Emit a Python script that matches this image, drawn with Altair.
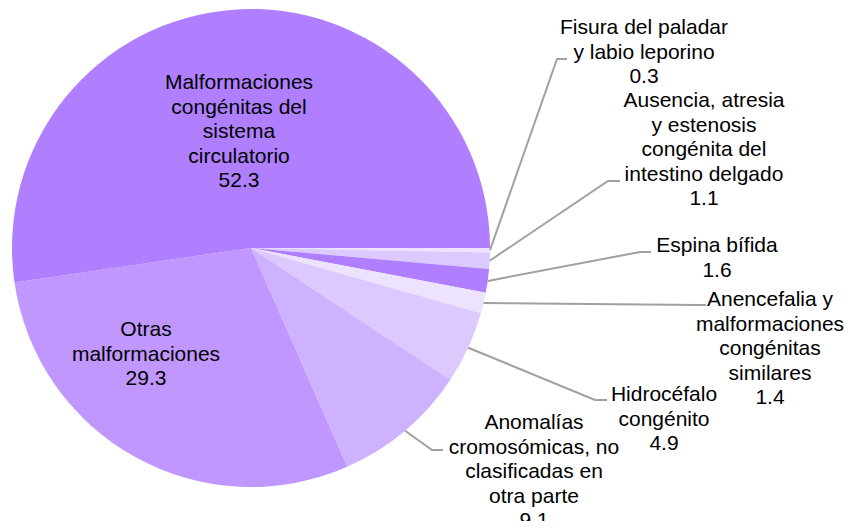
import math
import altair as alt
import pandas as pd

# ---------------- data ----------------
categories = [
    "Fisura del paladar y labio leporino",
    "Ausencia, atresia y estenosis congénita del intestino delgado",
    "Espina bífida",
    "Anencefalia y malformaciones congénitas similares",
    "Hidrocéfalo congénito",
    "Anomalías cromosómicas, no clasificadas en otra parte",
    "Otras malformaciones",
    "Malformaciones congénitas del sistema circulatorio",
]
values = [0.3, 1.1, 1.6, 1.4, 4.9, 9.1, 29.3, 52.3]
label_lines = [
    ["Fisura del paladar", "y labio leporino"],
    ["Ausencia, atresia", "y estenosis", "congénita del", "intestino delgado"],
    ["Espina bífida"],
    ["Anencefalia y", "malformaciones", "congénitas", "similares"],
    ["Hidrocéfalo", "congénito"],
    ["Anomalías", "cromosómicas, no", "clasificadas en", "otra parte"],
    ["Otras", "malformaciones"],
    ["Malformaciones", "congénitas del", "sistema", "circulatorio"],
]
colors = ["#ede3ff", "#dcc9ff", "#af7fff", "#ede3ff", "#dcc9ff", "#cfb2ff", "#c097ff", "#af7fff"]

# ---------------- layout (page pixels) ----------------
M = 8                      # page margin
CX, CY, R = 251, 248, 239  # pie centre / radius
LH = 24.6                  # text line height
FS = 21
# label centre x and first-line centre y, leader elbow / end per category
label_pos = [(644, 28), (704, 101), (717, 246), (770, 300),
             (664, 395), (534, 423), (146, 330), (239, 83)]
elbows = [((557, 59), (567, 59)), ((608, 181), (620, 181)), ((640, 252), (651, 252)),
          ((699, 305), (706, 305)), ((595, 400), (607, 400)), ((432, 450), (443, 450)),
          None, None]

# ---------------- build tables ----------------
pie_df = pd.DataFrame({"cat": categories, "value": values, "idx": range(len(values))})

total = sum(values)
cum = 0.0
line_rows, text_rows = [], []
for i, (c, v) in enumerate(zip(categories, values)):
    mid = (cum + v / 2) / total * 2 * math.pi  # clockwise from 3 o'clock
    cum += v
    sx = CX + R * math.cos(mid)
    sy = CY + R * math.sin(mid)
    if elbows[i] is not None:
        (ex, ey), (tx, ty) = elbows[i]
        for step, (px, py) in enumerate([(sx, sy), (ex, ey), (tx, ty)]):
            line_rows.append({"cat": c, "step": step, "px": px - M, "py": py - M})
    lx, ly = label_pos[i]
    text_rows.append({"cat": c, "lx": lx - M, "ly": ly - M,
                      "txt": label_lines[i] + [f"{v:.1f}"]})

line_df = pd.DataFrame(line_rows)
text_df = pd.DataFrame(text_rows)

color_scale = alt.Scale(domain=categories, range=colors)

pie = alt.Chart(pie_df).mark_arc(outerRadius=R, stroke=None).encode(
    theta=alt.Theta("value:Q", stack=True,
                    scale=alt.Scale(range=[math.pi / 2, math.pi / 2 + 2 * math.pi])),
    order=alt.Order("idx:Q"),
    color=alt.Color("cat:N", scale=color_scale, legend=None),
    x=alt.value(CX - M),
    y=alt.value(CY - M),
)

leaders = alt.Chart(line_df).mark_line(color="#a0a0a0", strokeWidth=2).encode(
    x=alt.X("px:Q", scale=None, axis=None),
    y=alt.Y("py:Q", scale=None, axis=None),
    detail="cat:N",
    order="step:Q",
)

labels = alt.Chart(text_df).mark_text(
    font="Liberation Sans", fontSize=FS, lineHeight=LH, color="#000000",
    align="center", baseline="middle",
).encode(
    x=alt.X("lx:Q", scale=None, axis=None),
    y=alt.Y("ly:Q", scale=None, axis=None),
    text="txt",
)

chart = alt.layer(pie, leaders, labels).properties(
    width=836, height=513,
    autosize=alt.AutoSizeParams(type="none"),
    padding=0,
).configure_view(stroke=None)

chart.save("out.html", embed_options={"renderer": "svg", "actions": False})
